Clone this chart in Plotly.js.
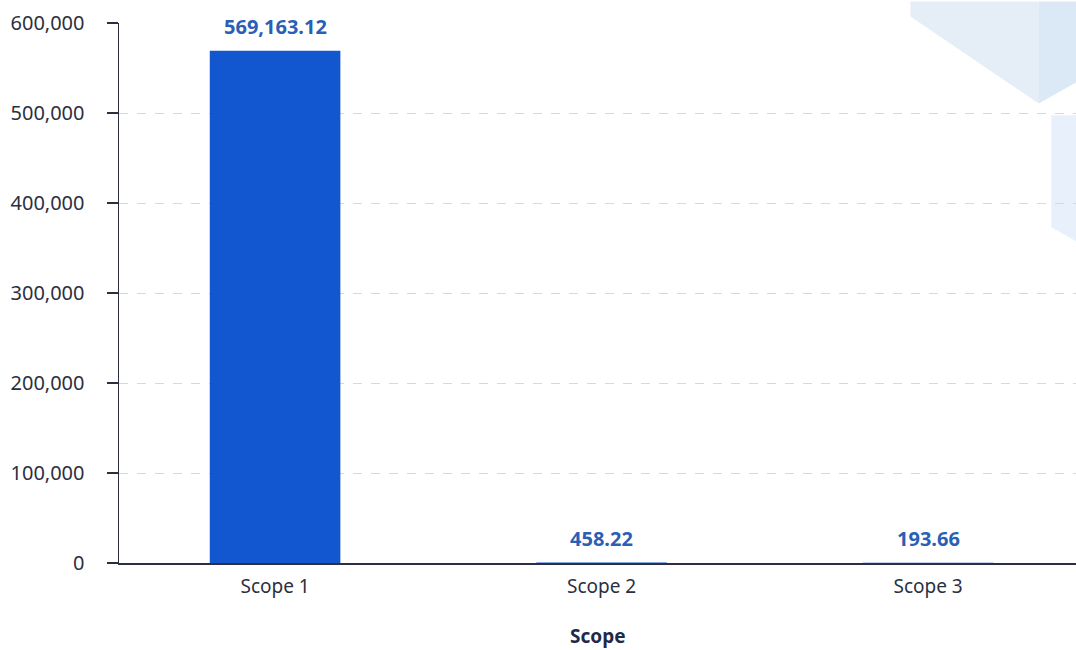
<!DOCTYPE html>
<html>
<head>
<meta charset="utf-8">
<script src="https://cdn.plot.ly/plotly-3.0.1.min.js"></script>
<style>
  html, body { margin: 0; padding: 0; background: #ffffff; }
  #chart { width: 1076px; height: 650px; }
</style>
</head>
<body>
<div id="chart"></div>
<script>
// Emissions by scope
const categories = ['Scope 1', 'Scope 2', 'Scope 3'];
const emissions = [569163.12, 458.22, 193.66];
const yTickValues = [0, 100000, 200000, 300000, 400000, 500000, 600000];
const xAxisTitle = 'Scope';

const barColor = '#1257d0';
const labelColor = '#2a5fb4';
const inkColor = '#2b2f3f';
const fontFamily = '"Noto Sans", "Open Sans", sans-serif';

function formatValue(v) {
  return v.toLocaleString('en-US', { minimumFractionDigits: 2, maximumFractionDigits: 2 });
}

const trace = {
  type: 'bar',
  x: categories,
  y: emissions,
  width: 0.4,
  marker: { color: barColor },
  hoverinfo: 'x+y'
};

// value labels sit above each bar
const valueLabels = categories.map((c, i) => ({
  x: c,
  y: emissions[i],
  xref: 'x',
  yref: 'y',
  text: formatValue(emissions[i]),
  showarrow: false,
  yanchor: 'bottom',
  yshift: 9,
  font: { family: fontFamily, size: 20, color: labelColor, weight: 700 }
}));

// x axis title, placed below the category labels
const axisTitle = {
  x: 0.5, y: 0, xref: 'paper', yref: 'paper',
  text: xAxisTitle,
  showarrow: false,
  yanchor: 'bottom',
  borderpad: 0,
  yshift: -87,
  font: { family: fontFamily, size: 19, color: '#1d2a48', weight: 700 }
};

// soft hexagon panels in the upper right corner
const decor = [
  {
    type: 'path', xref: 'paper', yref: 'paper', layer: 'below',
    path: 'M 0.827 1.04 L 0.827 1.012 L 0.961 0.851 L 0.961 1.04 Z',
    fillcolor: 'rgba(222,233,245,0.8)', line: { width: 0 }
  },
  {
    type: 'path', xref: 'paper', yref: 'paper', layer: 'below',
    path: 'M 0.961 1.04 L 0.961 0.851 L 1.0 0.89 L 1.0 1.04 Z',
    fillcolor: 'rgba(210,226,243,0.8)', line: { width: 0 }
  },
  {
    type: 'path', xref: 'paper', yref: 'paper', layer: 'below',
    path: 'M 0.974 0.829 L 0.974 0.622 L 1.0 0.596 L 1.0 0.829 Z',
    fillcolor: 'rgba(228,239,250,0.85)', line: { width: 0 }
  }
];

const layout = {
  width: 1076,
  height: 650,
  margin: { l: 119, r: 0, t: 23, b: 87 },
  paper_bgcolor: '#ffffff',
  plot_bgcolor: 'rgba(0,0,0,0)',
  showlegend: false,
  font: { family: fontFamily, size: 19, color: inkColor },
  xaxis: {
    type: 'category',
    range: [-0.478, 2.453],
    showline: true,
    linecolor: inkColor,
    linewidth: 1.5,
    ticks: '',
    showgrid: false,
    zeroline: false,
    ticklabelstandoff: 6,
    tickfont: { family: fontFamily, size: 19, color: inkColor },
    fixedrange: true
  },
  yaxis: {
    range: [0, 600000],
    tickvals: yTickValues,
    ticktext: yTickValues.map(v => v.toLocaleString('en-US')),
    showline: true,
    linecolor: inkColor,
    linewidth: 1.5,
    ticks: 'outside',
    ticklen: 11,
    tickwidth: 1.5,
    tickcolor: inkColor,
    ticklabelstandoff: 18,
    showgrid: true,
    gridcolor: '#d8d8d8',
    griddash: 'dash',
    gridwidth: 1,
    zeroline: false,
    tickfont: { family: fontFamily, size: 20, color: inkColor },
    fixedrange: true
  },
  annotations: valueLabels.concat([axisTitle]),
  shapes: decor
};

Plotly.newPlot('chart', [trace], layout, { displayModeBar: false, staticPlot: true });
</script>
</body>
</html>
